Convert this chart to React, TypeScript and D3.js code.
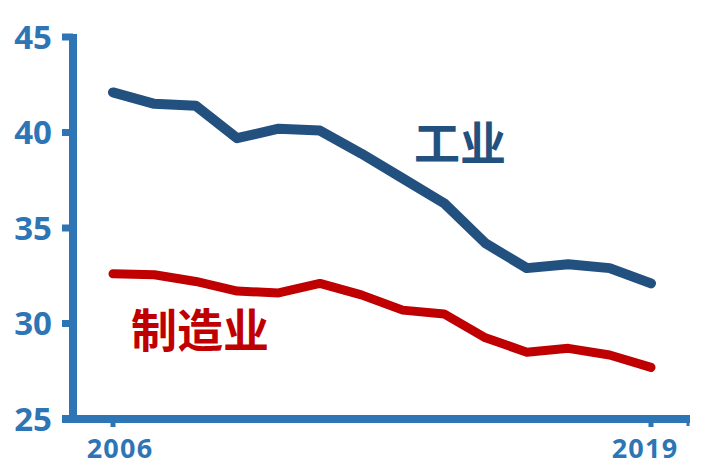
import * as d3 from 'd3';

const years = [2006, 2007, 2008, 2009, 2010, 2011, 2012, 2013, 2014, 2015, 2016, 2017, 2018, 2019];
const industry = [42.1, 41.5, 41.4, 39.7, 40.2, 40.1, 38.9, 37.6, 36.3, 34.2, 32.9, 33.1, 32.9, 32.1];
const manufacturing = [32.6, 32.55, 32.2, 31.7, 31.6, 32.1, 31.5, 30.7, 30.5, 29.25, 28.5, 28.7, 28.35, 27.7];
const yTicks = [25, 30, 35, 40, 45];
const xTickLabels = [2006, 2019];

const W = 724;
const H = 472;
const AXIS = '#2e75b6';
const DARK = '#22507f';
const RED = '#c00000';

export default function App() {
  const x = d3.scaleLinear().domain([2006, 2019]).range([113, 651]);
  const y = d3.scaleLinear().domain([25, 45]).range([419, 37]);

  const line = d3.line<number>()
    .x((_, i) => x(years[i]))
    .y(d => y(d));

  const axisX = 73;
  const axisY = y(25);

  return (
    <svg width={W} height={H} style={{ position: 'absolute', left: 0, top: 0, background: '#fff' }}>
      {/* y axis */}
      <line x1={axisX} x2={axisX} y1={y(45) - 3} y2={axisY + 4} stroke={AXIS} strokeWidth={8} />
      {yTicks.map(t => (
        <g key={t}>
          <line x1={62} x2={axisX} y1={y(t)} y2={y(t)} stroke={AXIS} strokeWidth={7} />
          <text x={52} y={y(t)} dy="0.36em" textAnchor="end" fill={AXIS}
            fontFamily="'Open Sans', sans-serif" fontWeight={700} fontSize={33}>{t}</text>
        </g>
      ))}

      {/* x axis */}
      <line x1={62} x2={690} y1={axisY} y2={axisY} stroke={AXIS} strokeWidth={8} />
      {xTickLabels.map((t, i) => (
        <g key={t}>
          <line x1={x(t)} x2={x(t)} y1={axisY} y2={axisY + 8} stroke={AXIS} strokeWidth={5} />
          <text x={x(t) + (i === 0 ? 7 : -6)} y={458} textAnchor="middle" fill={AXIS}
            fontFamily="'Open Sans', sans-serif" fontWeight={700} fontSize={27}
            letterSpacing={1.2}>{t}</text>
        </g>
      ))}
      <line x1={688} x2={688} y1={axisY} y2={axisY + 7} stroke={AXIS} strokeWidth={3} />

      {/* series */}
      <path d={line(manufacturing) ?? ''} fill="none" stroke={RED} strokeWidth={9}
        strokeLinecap="round" strokeLinejoin="round" />
      <path d={line(industry) ?? ''} fill="none" stroke={DARK} strokeWidth={10}
        strokeLinecap="round" strokeLinejoin="round" />

      <text x={414} y={143} dy="0.36em" fill={DARK} fontFamily="'Noto Sans CJK SC', sans-serif"
        fontWeight={700} fontSize={46}>工业</text>
      <text x={131} y={330} dy="0.36em" fill={RED} fontFamily="'Noto Sans CJK SC', sans-serif"
        fontWeight={700} fontSize={46}>制造业</text>
    </svg>
  );
}
